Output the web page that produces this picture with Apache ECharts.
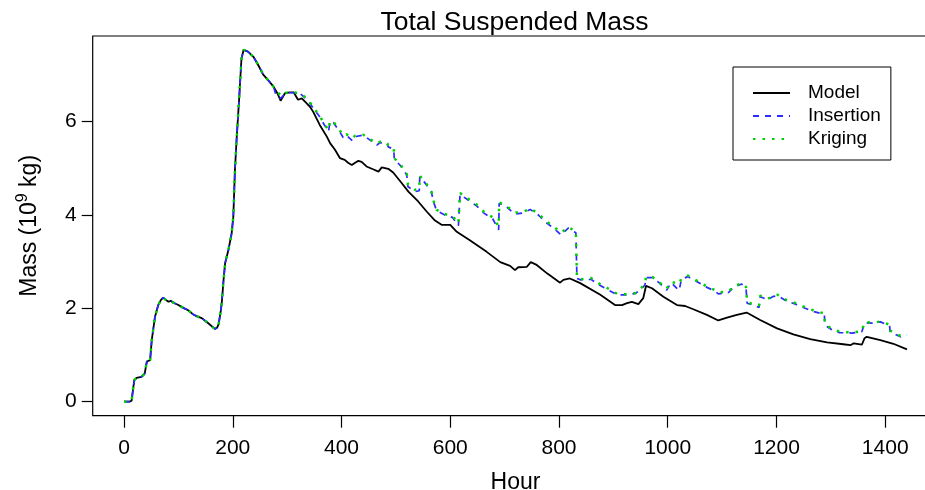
<!DOCTYPE html>
<html>
<head>
<meta charset="utf-8">
<title>Total Suspended Mass</title>
<script src="https://cdn.jsdelivr.net/npm/echarts@6.0.0/dist/echarts.min.js"></script>
<style>
  html, body { margin: 0; padding: 0; background: #fff; }
  #main { width: 925px; height: 490px; }
</style>
</head>
<body>
<div id="main"></div>
<script>
// hours 0-270: all three curves lie on top of each other
var sharedHours = [0, 10, 14, 17, 19, 23, 32, 38, 42, 48, 51, 57, 63, 68, 72, 77, 82, 86, 91, 100,
  109, 118, 126, 132, 143, 155, 167, 171, 174, 178, 180, 183, 186, 192, 198, 201, 204, 207, 212,
  216, 220, 228, 238, 247, 256, 265, 270];
var sharedMass = [0, 0, 0.02, 0.3, 0.46, 0.51, 0.53, 0.6, 0.86, 0.89, 1.32, 1.82, 2.07, 2.18, 2.23,
  2.18, 2.14, 2.16, 2.12, 2.07, 2.01, 1.96, 1.88, 1.84, 1.79, 1.68, 1.56, 1.58, 1.66, 1.95, 2.15,
  2.6, 2.97, 3.25, 3.61, 3.96, 4.96, 5.61, 6.54, 7.35, 7.54, 7.5, 7.39, 7.21, 7.01, 6.89, 6.82];

// model run after hour 270
var modelHours = [275, 282, 288, 296, 305, 312, 320, 327, 336, 342, 348, 360, 373, 379, 388, 397,
  406, 412, 419, 425, 431, 437, 446, 458, 468, 474, 486, 495, 511, 523, 541, 557, 572, 584, 600,
  612, 636, 667, 692, 710, 719, 725, 741, 748, 759, 778, 802, 808, 820, 839, 876, 903, 916, 925,
  934, 946, 955, 960, 971, 992, 1017, 1032, 1047, 1072, 1093, 1109, 1127, 1145, 1170, 1201, 1231,
  1262, 1293, 1323, 1336, 1342, 1357, 1362, 1366, 1391, 1415, 1440];
var modelMass = [6.75, 6.61, 6.45, 6.61, 6.63, 6.63, 6.47, 6.5, 6.39, 6.32, 6.21, 5.93, 5.68, 5.54,
  5.4, 5.22, 5.18, 5.12, 5.07, 5.12, 5.16, 5.14, 5.04, 4.98, 4.93, 5.02, 4.99, 4.91, 4.68, 4.5,
  4.29, 4.07, 3.88, 3.79, 3.79, 3.64, 3.46, 3.21, 2.99, 2.91, 2.82, 2.88, 2.89, 2.99, 2.93, 2.75,
  2.55, 2.61, 2.64, 2.54, 2.29, 2.07, 2.07, 2.11, 2.14, 2.09, 2.22, 2.48, 2.43, 2.25, 2.07, 2.05,
  1.98, 1.86, 1.74, 1.8, 1.86, 1.91, 1.75, 1.57, 1.44, 1.34, 1.27, 1.23, 1.21, 1.25, 1.22, 1.36,
  1.39, 1.32, 1.24, 1.12];

// assimilated runs after hour 270
var assimHours = [275, 280, 288, 298, 311, 325, 338, 348, 359, 368, 376, 378, 379, 385, 396, 403,
  409, 420, 425, 440, 452, 465, 471, 483, 486, 496, 497, 509, 520, 522, 535, 543, 544, 552, 565,
  569, 575, 590, 604, 610, 615, 618, 633, 649, 662, 678, 689, 690, 704, 718, 733, 747, 762, 776,
  790, 804, 817, 831, 833, 840, 859, 874, 891, 907, 925, 941, 954, 958, 960, 972, 985, 998, 1006,
  1021, 1025, 1037, 1054, 1070, 1085, 1093, 1112, 1121, 1136, 1144, 1146, 1157, 1168, 1170, 1184,
  1193, 1202, 1218, 1235, 1253, 1269, 1288, 1289, 1302, 1316, 1339, 1357, 1362, 1379, 1391, 1408,
  1409, 1428, 1440];
var insertionMass = [6.75, 6.55, 6.5, 6.62, 6.62, 6.59, 6.46, 6.29, 6.12, 5.94, 5.79, 5.8, 6.0,
  5.98, 5.8, 5.66, 5.71, 5.59, 5.68, 5.71, 5.61, 5.5, 5.55, 5.54, 5.46, 5.41, 5.2, 5.05, 4.86,
  4.61, 4.5, 4.52, 4.82, 4.71, 4.51, 4.29, 4.09, 4.0, 3.95, 3.85, 3.77, 4.44, 4.32, 4.19, 4.04,
  3.92, 3.68, 4.25, 4.17, 4.02, 4.04, 4.12, 4.0, 3.84, 3.72, 3.57, 3.72, 3.62, 2.64, 2.61, 2.62,
  2.5, 2.39, 2.29, 2.29, 2.32, 2.45, 2.5, 2.66, 2.66, 2.54, 2.39, 2.55, 2.38, 2.62, 2.68, 2.57,
  2.46, 2.38, 2.31, 2.34, 2.45, 2.52, 2.43, 2.11, 2.07, 2.02, 2.25, 2.18, 2.25, 2.27, 2.16, 2.09,
  2.0, 1.93, 1.87, 1.64, 1.54, 1.48, 1.47, 1.5, 1.69, 1.68, 1.71, 1.63, 1.5, 1.39, 1.43];
var krigingMass = [6.75, 6.7, 6.55, 6.62, 6.63, 6.6, 6.48, 6.31, 6.14, 5.96, 5.82, 5.85, 6.02,
  6.0, 5.83, 5.7, 5.73, 5.64, 5.7, 5.72, 5.63, 5.53, 5.57, 5.56, 5.5, 5.44, 5.22, 5.07, 4.88,
  4.66, 4.54, 4.56, 4.84, 4.73, 4.53, 4.31, 4.11, 4.02, 3.97, 3.9, 3.82, 4.47, 4.35, 4.22, 4.07,
  3.95, 3.76, 4.27, 4.19, 4.05, 4.06, 4.14, 4.03, 3.87, 3.75, 3.62, 3.74, 3.65, 2.66, 2.62, 2.65,
  2.53, 2.42, 2.31, 2.3, 2.33, 2.47, 2.52, 2.67, 2.67, 2.55, 2.42, 2.57, 2.52, 2.64, 2.7, 2.59,
  2.48, 2.4, 2.34, 2.36, 2.47, 2.54, 2.46, 2.13, 2.09, 2.06, 2.27, 2.2, 2.27, 2.29, 2.18, 2.11,
  2.02, 1.95, 1.89, 1.66, 1.56, 1.5, 1.48, 1.51, 1.71, 1.69, 1.72, 1.65, 1.52, 1.41, 1.45];

var xTicks = [0, 200, 400, 600, 800, 1000, 1200, 1400];
var yTicks = [0, 2, 4, 6];

function pairs(hours, mass) {
  return hours.map(function (h, i) { return [h, mass[i]]; });
}

var font = "'Liberation Sans', Arial, Helvetica, sans-serif";
var chart = echarts.init(document.getElementById('main'), null, { renderer: 'canvas' });

var option = {
  animation: false,
  backgroundColor: '#fff',
  textStyle: { fontFamily: font, color: '#000' },
  title: {
    text: 'Total Suspended Mass',
    left: 509.5,
    textAlign: 'center',
    top: 4,
    textStyle: { fontFamily: font, fontSize: 26.5, fontWeight: 'normal', color: '#000' }
  },
  legend: {
    orient: 'vertical',
    left: 733,
    top: 67,
    padding: [16, 10, 11, 19],
    borderColor: '#000',
    borderWidth: 1,
    borderRadius: 0,
    itemWidth: 37,
    itemHeight: 10,
    itemGap: 3,
    itemStyle: { opacity: 0 },
    textStyle: { fontFamily: font, fontSize: 19, color: '#000', lineHeight: 20, padding: [0, 0, 0, 13] },
    data: ['Model', 'Insertion', 'Kriging']
  },
  grid: {
    left: 92.7,
    top: 36,
    width: 845.6,
    height: 379.7,
    containLabel: false,
    outerBoundsMode: 'none',
    show: true,
    borderColor: '#000',
    borderWidth: 1.2
  },
  xAxis: {
    type: 'value',
    min: -57.6,
    max: 1497.6,
    name: 'Hour',
    nameLocation: 'middle',
    nameGap: 55,
    nameTextStyle: { fontFamily: font, fontSize: 23, color: '#000' },
    axisLine: { show: false, onZero: false },
    splitLine: { show: false },
    axisTick: { show: true, inside: false, length: 12, customValues: xTicks, lineStyle: { color: '#000', width: 1.2 } },
    axisLabel: {
      customValues: xTicks, fontFamily: font, fontSize: 21, color: '#000', margin: 22,
      formatter: function (v) { return String(v); }
    }
  },
  yAxis: {
    type: 'value',
    min: -0.301,
    max: 7.836,
    name: '{a|Mass (10}{s|9}{a| kg)}',
    nameLocation: 'middle',
    nameGap: 52,
    nameRotate: 90,
    nameTextStyle: {
      fontFamily: font, color: '#000',
      rich: {
        a: { fontFamily: font, fontSize: 23, color: '#000', lineHeight: 26, verticalAlign: 'bottom' },
        s: { fontFamily: font, fontSize: 16, color: '#000', lineHeight: 26, verticalAlign: 'top', padding: [0, 0, 10, 0] }
      }
    },
    axisLine: { show: false, onZero: false },
    splitLine: { show: false },
    axisTick: { show: true, inside: false, length: 11, customValues: yTicks, lineStyle: { color: '#000', width: 1.2 } },
    axisLabel: {
      customValues: yTicks, fontFamily: font, fontSize: 21, color: '#000', margin: 16,
      formatter: function (v) { return String(v); }
    }
  },
  series: [
    {
      name: 'Model',
      type: 'line',
      symbol: 'none',
      lineStyle: { color: '#000', width: 1.8, type: 'solid' },
      itemStyle: { color: '#000' },
      data: pairs(sharedHours.concat(modelHours), sharedMass.concat(modelMass))
    },
    {
      name: 'Insertion',
      type: 'line',
      symbol: 'none',
      lineStyle: { color: '#2b2bff', width: 1.7, type: [6, 6] },
      itemStyle: { color: '#2b2bff' },
      data: pairs(sharedHours.concat(assimHours), sharedMass.concat(insertionMass))
    },
    {
      name: 'Kriging',
      type: 'line',
      symbol: 'none',
      lineStyle: { color: '#00d000', width: 2.5, type: [2.5, 7] },
      itemStyle: { color: '#00d000' },
      data: pairs(sharedHours.concat(assimHours), sharedMass.concat(krigingMass))
    }
  ]
};
chart.setOption(option);
</script>
</body>
</html>
